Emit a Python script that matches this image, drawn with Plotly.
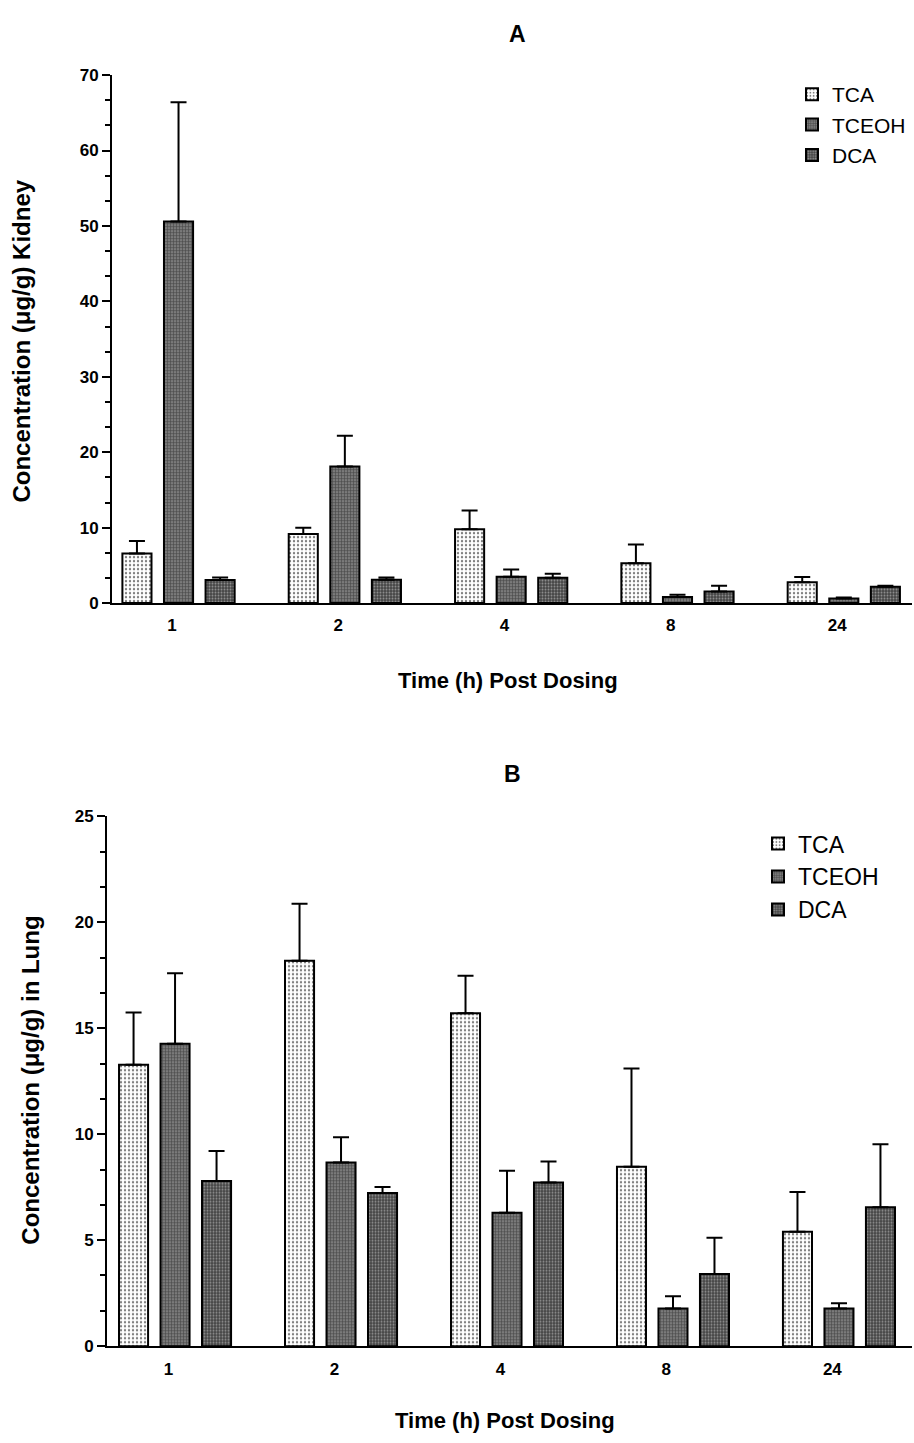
import plotly.graph_objects as go

# ---------------- data ----------------
times = ["1", "2", "4", "8", "24"]
series = ["TCA", "TCEOH", "DCA"]

# Panel A: kidney (mean, upper SD)
kid_tca = [6.58, 9.16, 9.78, 5.28, 2.75]
kid_tca_sd = [1.66, 0.84, 2.48, 2.49, 0.70]
kid_tceoh = [50.6, 18.1, 3.49, 0.79, 0.60]
kid_tceoh_sd = [15.8, 4.1, 0.96, 0.31, 0.15]
kid_dca = [3.05, 3.10, 3.36, 1.53, 2.18]
kid_dca_sd = [0.35, 0.30, 0.52, 0.78, 0.12]

# Panel B: lung (mean, upper SD)
lung_tca = [13.27, 18.18, 15.71, 8.46, 5.40]
lung_tca_sd = [2.47, 2.69, 1.76, 4.64, 1.87]
lung_tceoh = [14.27, 8.66, 6.29, 1.78, 1.78]
lung_tceoh_sd = [3.32, 1.20, 1.99, 0.58, 0.25]
lung_dca = [7.79, 7.22, 7.72, 3.41, 6.55]
lung_dca_sd = [1.42, 0.29, 0.99, 1.70, 2.98]

# ---------------- styles ----------------
W, H = 914, 1443
FONT = "Liberation Sans Narrow, Liberation Sans, Arial, sans-serif"
TICKFONT = "Liberation Sans, Arial, sans-serif"
patterns = {
    "TCA": dict(shape=".", bgcolor="white", fgcolor="black", size=4, solidity=0.28),
    "TCEOH": dict(shape="+", bgcolor="#7a7a7a", fgcolor="#111111", size=3, solidity=0.35),
    "DCA": dict(shape=".", bgcolor="#444444", fgcolor="#dddddd", size=3, solidity=0.35),
}

idx = list(range(len(times)))
fig = go.Figure()

def add_panel(vals, sds, xaxis, yaxis, legend):
    for name, v, sd in zip(series, vals, sds):
        fig.add_trace(go.Bar(
            x=idx, y=v, name=name, xaxis=xaxis, yaxis=yaxis, legend=legend,
            marker=dict(color="white", pattern=patterns[name],
                        line=dict(color="black", width=2)),
            error_y=dict(type="data", symmetric=False, array=sd,
                         arrayminus=[0] * len(sd), color="black",
                         thickness=2, width=8),
        ))

add_panel([kid_tca, kid_tceoh, kid_dca], [kid_tca_sd, kid_tceoh_sd, kid_dca_sd],
          "x", "y", "legend")
add_panel([lung_tca, lung_tceoh, lung_dca], [lung_tca_sd, lung_tceoh_sd, lung_dca_sd],
          "x2", "y2", "legend2")

def px_x(p):
    return p / W

def px_y(p):
    return 1 - p / H

tickfont = dict(family=TICKFONT, size=17, color="black", weight="bold")
tickpos = [i - 0.04 for i in idx]

xcommon = dict(showline=True, linecolor="black", linewidth=2, ticks="",
               tickvals=tickpos, ticktext=times, tickfont=tickfont,
               showgrid=False, zeroline=False, ticklabelstandoff=6)
ycommon = dict(showline=True, linecolor="black", linewidth=2, ticks="outside",
               ticklen=8, tickwidth=2, tickcolor="black", tickfont=tickfont,
               showgrid=False, zeroline=False)

fig.update_layout(
    width=W, height=H,
    margin=dict(l=0, r=0, t=0, b=0),
    paper_bgcolor="white", plot_bgcolor="white",
    barmode="group", bargap=0.25, bargroupgap=0.3,
    showlegend=True,
    xaxis=dict(domain=[px_x(112), px_x(912)], range=[-0.40, 4.41], anchor="y", **xcommon),
    yaxis=dict(domain=[px_y(602), px_y(67)], range=[0, 70], dtick=10, anchor="x",
               minor=dict(dtick=10 / 3, ticks="outside", ticklen=5, tickwidth=1.5,
                          tickcolor="black"), **ycommon),
    xaxis2=dict(domain=[px_x(107), px_x(912)], range=[-0.41, 4.44], anchor="y2", **xcommon),
    yaxis2=dict(domain=[px_y(1355), px_y(818)], range=[0, 25], dtick=5, anchor="x2",
                minor=dict(dtick=5 / 3, ticks="outside", ticklen=5, tickwidth=1.5,
                           tickcolor="black"), **ycommon),
    legend=dict(x=px_x(792), y=px_y(66), xanchor="left", yanchor="top",
                font=dict(family=FONT, size=21, color="black"),
                bgcolor="rgba(0,0,0,0)", tracegroupgap=0, itemwidth=30),
    legend2=dict(x=px_x(758), y=px_y(824), xanchor="left", yanchor="top",
                 font=dict(family=FONT, size=23, color="black"),
                 bgcolor="rgba(0,0,0,0)", tracegroupgap=0, itemwidth=30),
)

def ann(text, x, y, size, angle=0):
    fig.add_annotation(text=text, x=px_x(x), y=px_y(y), xref="paper", yref="paper",
                       xanchor="center", yanchor="middle", showarrow=False,
                       textangle=angle,
                       font=dict(family=FONT, size=size, color="black", weight="bold"))

ann("A", 517, 25, 23)
ann("B", 512, 775, 23)
ann("Time (h) Post Dosing", 508, 680, 22)
ann("Time (h) Post Dosing", 505, 1430, 22)
ann("Concentration (\u03bcg/g) Kidney", 22, 337, 24, -90)
ann("Concentration (\u03bcg/g) in Lung", 31, 1086, 24, -90)

fig.write_html("out.html")
